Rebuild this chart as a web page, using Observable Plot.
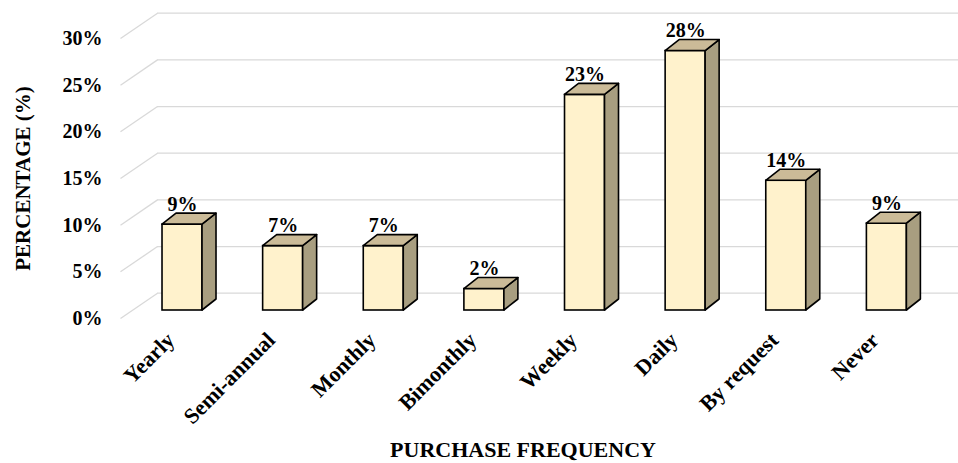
<!DOCTYPE html>
<html>
<head>
<meta charset="utf-8">
<script src="https://cdn.jsdelivr.net/npm/d3@7"></script>
<script src="https://cdn.jsdelivr.net/npm/@observablehq/plot@0.6"></script>
<style>
  html, body { margin: 0; padding: 0; background: #fff; overflow: hidden; }
</style>
</head>
<body>
<div id="chart"></div>
<script>
// ---- data ----
const categories = ["Yearly", "Semi-annual", "Monthly", "Bimonthly", "Weekly", "Daily", "By request", "Never"];
const values = [9.2, 6.9, 6.9, 2.3, 23.1, 27.8, 13.9, 9.3];
const yTicks = [0, 5, 10, 15, 20, 25, 30];

// ---- layout ----
const W = 958, H = 463, mL = 120, mR = 33, mT = 38, mB = 145;
const xDomain = [-0.5, 7.5], yDomain = [0, 30];
const pxX = (W - mL - mR) / (xDomain[1] - xDomain[0]);
const pxY = (H - mT - mB) / (yDomain[1] - yDomain[0]);
const wall = {dx: 37, dy: -25.3};   // back wall offset (px)
const plane = {dx: 11.7, dy: -8};   // bar front plane offset (px)
const depth = {dx: 14, dy: -11};    // bar depth (px)
const half = 20 / pxX;
const ddx = depth.dx / pxX, ddy = -depth.dy / pxY;

const colors = {front: "#FFF2CC", top: "#CBBB98", side: "#A89E80", grid: "#D9D9D9"};

const bars = categories.map((c, i) => ({i, c, v: values[i], label: Math.round(values[i]) + "%"}));
const sidePts = bars.flatMap(b => [
  {i: b.i, x: b.i + half, y1: 0, y2: b.v},
  {i: b.i, x: b.i + half + ddx, y1: ddy, y2: b.v + ddy}
]);
const topPts = bars.flatMap(b => [
  {i: b.i, y: b.v, x1: b.i - half, x2: b.i + half},
  {i: b.i, y: b.v + ddy, x1: b.i - half + ddx, x2: b.i + half + ddx}
]);

const chart = Plot.plot({
  width: W, height: H,
  marginLeft: mL, marginRight: mR, marginTop: mT, marginBottom: mB,
  style: {fontFamily: "'Liberation Serif', 'Times New Roman', serif", fontSize: "20px", fontWeight: "bold", color: "black", background: "white", overflow: "hidden"},
  x: {domain: xDomain, axis: null},
  y: {domain: yDomain, ticks: yTicks, tickFormat: d => d + "%", tickSize: 0, tickPadding: 18, label: null},
  marks: [
    Plot.ruleY(yTicks, {y: d => d, dx: wall.dx, dy: wall.dy, stroke: colors.grid, strokeWidth: 1.3}),
    Plot.link(yTicks, {x1: xDomain[0], y1: d => d, x2: xDomain[0] + wall.dx / pxX, y2: d => d - wall.dy / pxY, stroke: colors.grid, strokeWidth: 1.3}),
    Plot.rect(bars, {x1: d => d.i - half, x2: d => d.i + half, y1: 0, y2: "v", dx: plane.dx, dy: plane.dy, fill: colors.front, stroke: "black", strokeWidth: 1.6}),
    Plot.area(sidePts, {x1: "x", y1: "y1", y2: "y2", z: "i", dx: plane.dx, dy: plane.dy, fill: colors.side, stroke: "black", strokeWidth: 1.6, strokeLinejoin: "round"}),
    Plot.area(topPts, {x1: "x1", x2: "x2", y1: "y", y2: "y", z: "i", dx: plane.dx, dy: plane.dy, fill: colors.top, stroke: "black", strokeWidth: 1.6, strokeLinejoin: "round"}),
    Plot.text(bars, {x: "i", y: "v", text: "label", dx: plane.dx, dy: plane.dy + depth.dy - 3, lineAnchor: "bottom", fontSize: 20, fill: "black"}),
    Plot.text(bars, {x: "i", frameAnchor: "bottom", text: "c", rotate: -45, textAnchor: "end", dx: 5, dy: 23, fontSize: 22, fill: "black"}),
    Plot.text(["PERCENTAGE (%)"], {text: d => d, frameAnchor: "left", textAnchor: "middle", rotate: -90, dx: -97, fontSize: 21, fill: "black"}),
    Plot.text(["PURCHASE FREQUENCY"], {text: d => d, frameAnchor: "bottom", textAnchor: "middle", lineAnchor: "bottom", dy: 138, fontSize: 22, fill: "black"})
  ]
});
document.getElementById("chart").appendChild(chart);
</script>
</body>
</html>
